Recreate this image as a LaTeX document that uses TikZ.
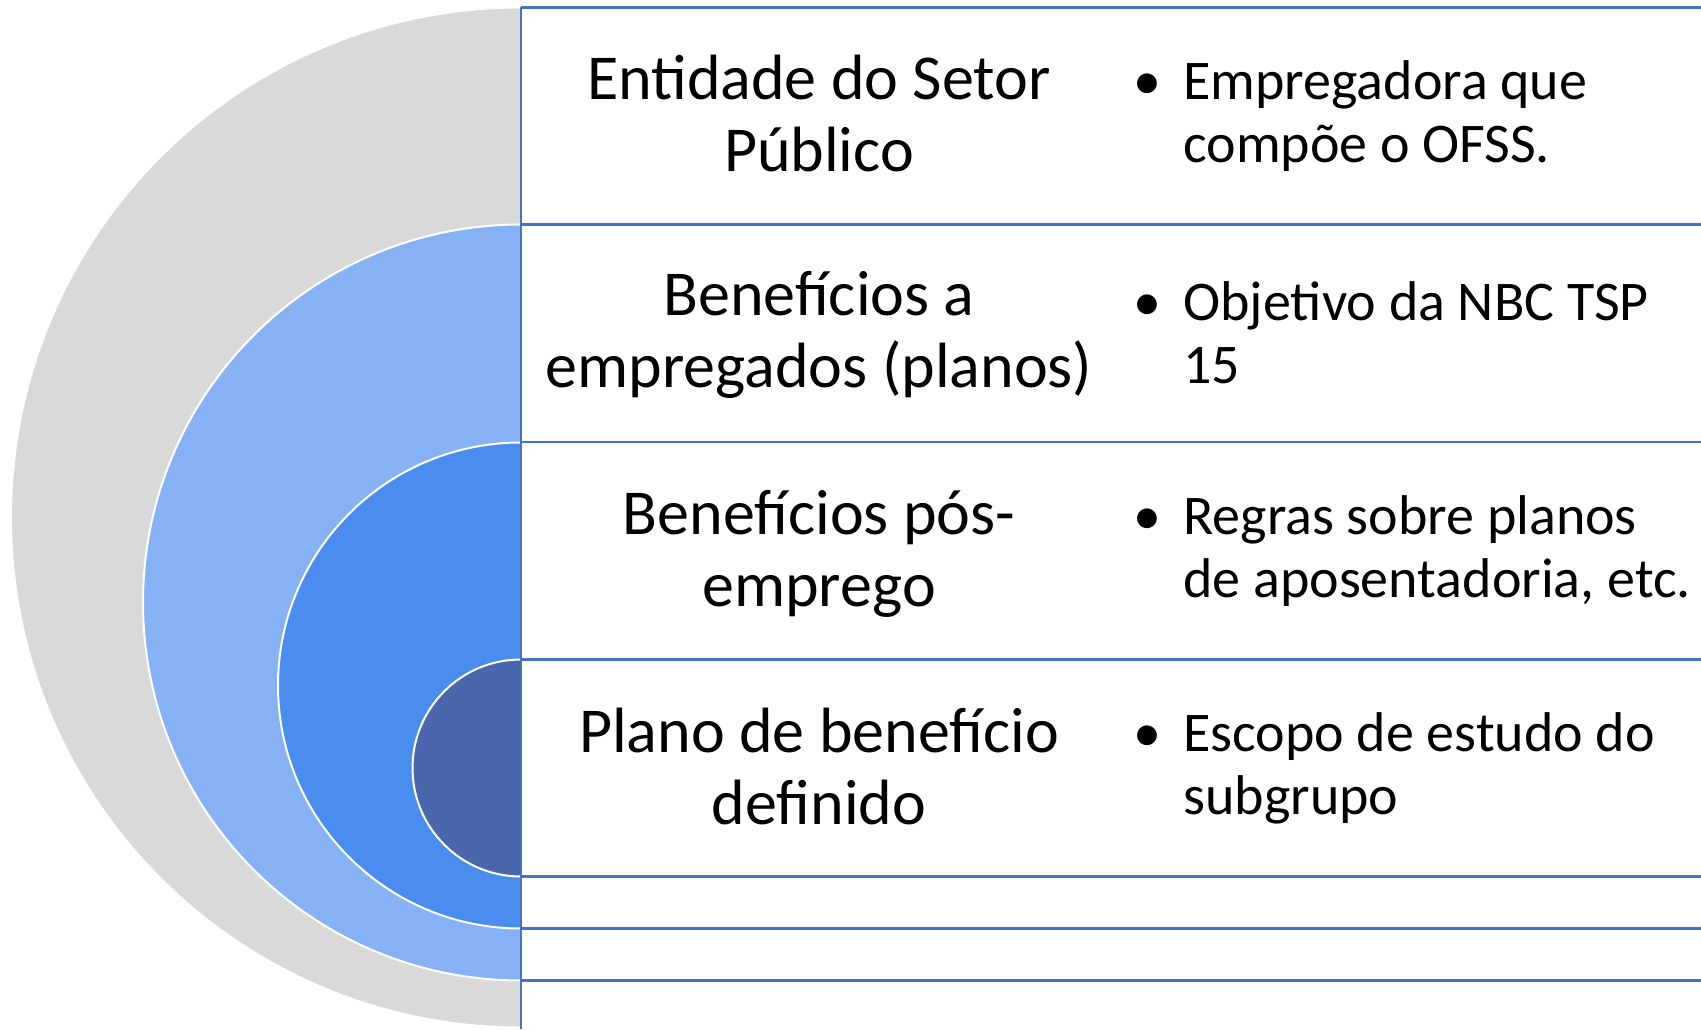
\documentclass[tikz,border=0pt]{standalone}
\usepackage{fontspec}
\setmainfont{Carlito}
\definecolor{ringgray}{HTML}{D9D9D9}
\definecolor{ringlight}{HTML}{86B1F5}
\definecolor{ringmid}{HTML}{4A8DEF}
\definecolor{ringdark}{HTML}{4A66AC}
\definecolor{gridblue}{HTML}{4472C4}
\tikzset{
    ring/.style={draw=white,line width=1pt},
    rowline/.style={draw=gridblue,line width=1.1pt},
    title/.style={align=center,font=\fontsize{32}{36}\selectfont,inner sep=0pt},
    note/.style={align=left,anchor=west,font=\fontsize{28}{31.6}\selectfont,inner sep=0pt}
}
\newcommand{\blt}{\llap{•\hspace{11pt}}}
\begin{document}
\begin{tikzpicture}[x=0.5pt,y=0.5pt]
\useasboundingbox (0,0) rectangle (1701,1029);
\fill[white] (0,0) rectangle (1701,1029);
\filldraw[ring,fill=ringgray] (521,1021.5) arc (90:270:510) -- cycle;
\filldraw[ring,fill=ringlight] (521,804.5) arc (90:270:378) -- cycle;
\filldraw[ring,fill=ringmid] (521,586.5) arc (90:270:243) -- cycle;
\filldraw[ring,fill=ringdark] (521,369.5) arc (90:270:108.5) -- cycle;
\foreach \y in {1021.5,804.5,587,369.5,152.5,100.5,48.5}
    \draw[rowline] (521,\y) -- (1701,\y);
\draw[rowline] (521,1021.5) -- (521,0);
\node[title] (entidade) at (819,915) {Entidade do Setor\\Público};
\node[title] (beneficios) at (819,694.5) {Benefícios a\\empregados (planos)};
\node[title] (posemprego) at (819,475) {Benefícios pós-\\emprego};
\node[title] (plano) at (819,263) {Plano de benefício\\definido};
\node[note] (empregadora) at (1183,913) {\blt Empregadora que\\compõe o OFSS.};
\node[note] (objetivo) at (1183,696) {\blt Objetivo da NBC TSP\\15};
\node[note] (regras) at (1183,478) {\blt Regras sobre planos\\de aposentadoria, etc.};
\node[note] (escopo) at (1183,261) {\blt Escopo de estudo do\\subgrupo};
\end{tikzpicture}
\end{document}
